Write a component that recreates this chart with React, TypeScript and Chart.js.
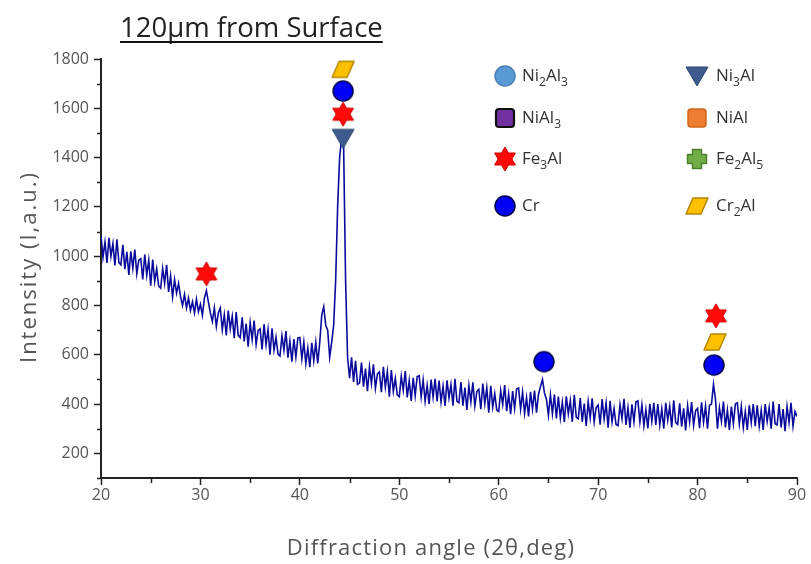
import React, { useEffect, useRef } from 'react';
import { Chart, registerables } from 'chart.js';

Chart.register(...registerables);

// ---- Data ----
const START_ANGLE = 20;
const STEP = 0.2;
const intensity = [
  1085, 996, 1057, 973, 1074, 1000, 1051, 962, 1068, 974,
  965, 1046, 947, 1018, 924, 1020, 951, 1027, 928, 984,
  990, 906, 1007, 923, 984, 880, 986, 897, 948, 879,
  870, 950, 890, 965, 855, 920, 835, 905, 850, 890,
  835, 800, 845, 790, 830, 780, 815, 770, 825, 775,
  805, 760, 830, 860, 815, 770, 735, 790, 715, 770,
  790, 701, 762, 678, 779, 705, 756, 667, 773, 679,
  670, 752, 654, 726, 633, 730, 662, 739, 641, 698,
  705, 622, 724, 641, 703, 600, 707, 619, 671, 603,
  595, 677, 619, 696, 588, 655, 572, 664, 591, 668,
  670, 583, 651, 564, 627, 550, 648, 576, 650, 565,
  650, 760, 795, 720, 700, 590, 650, 720, 900, 1200,
  1400, 1480, 1450, 900, 590, 505, 590, 490, 575, 480,
  485, 568, 471, 544, 452, 550, 483, 561, 464, 522,
  530, 448, 551, 469, 532, 430, 538, 451, 504, 437,
  430, 513, 456, 534, 427, 495, 413, 506, 434, 512,
  515, 429, 498, 412, 476, 400, 499, 428, 502, 411,
  495, 409, 473, 392, 496, 425, 479, 393, 502, 411,
  405, 489, 393, 467, 376, 475, 409, 488, 392, 451,
  460, 379, 483, 402, 466, 365, 474, 388, 442, 376,
  370, 454, 398, 477, 371, 440, 359, 453, 382, 461,
  465, 379, 448, 362, 426, 350, 450, 380, 455, 365,
  440, 470, 500, 445, 420, 355, 438, 361, 439, 342,
  430, 344, 408, 327, 431, 360, 414, 328, 437, 346,
  340, 424, 328, 402, 311, 410, 344, 423, 327, 386,
  396, 316, 420, 340, 404, 304, 413, 328, 382, 317,
  312, 397, 341, 421, 315, 385, 304, 399, 328, 408,
  413, 328, 397, 312, 377, 301, 401, 331, 405, 315,
  400, 315, 380, 300, 405, 335, 390, 305, 415, 325,
  318, 403, 308, 383, 293, 393, 328, 408, 313, 373,
  382, 302, 407, 327, 392, 300, 395, 400, 480, 420,
  300, 385, 330, 410, 305, 375, 295, 390, 320, 400,
  405, 320, 390, 305, 370, 295, 395, 325, 400, 310,
  395, 310, 375, 295, 400, 330, 385, 300, 410, 320,
  315, 400, 305, 380, 290, 390, 325, 405, 310, 370,
  350,
];

const fe3alX = [30.6, 44.35, 81.85];
const fe3alY = [928, 1576, 758];
const crX = [44.35, 64.55, 81.65];
const crY = [1670, 572, 558];
const cr2alX = [44.35, 81.75];
const cr2alY = [1758, 652];
const ni3alX = [44.35];
const ni3alY = [1478];

const xTicks = [20, 30, 40, 50, 60, 70, 80, 90];
const xMinorTicks = [25, 35, 45, 55, 65, 75, 85];
const yTicks = [200, 400, 600, 800, 1000, 1200, 1400, 1600, 1800];
const yMinorTicks = [100, 300, 500, 700, 900, 1100, 1300, 1500, 1700];

const legendLabels = ['Ni_2Al_3', 'NiAl_3', 'Fe_3Al', 'Cr', 'Ni_3Al', 'NiAl', 'Fe_2Al_5', 'Cr_2Al'];
const legendMarkers = ['circleLight', 'squarePurple', 'star', 'circleBlue', 'triDown', 'squareOrange', 'plusGreen', 'para'];

const TITLE = '120μm from Surface';
const X_TITLE = 'Diffraction angle (2θ,deg)';
const Y_TITLE = 'Intensity (I,a.u.)';
const FONT = "'Open Sans', 'Noto Sans', sans-serif";

function makeMarker(kind: string): HTMLCanvasElement {
  const s = 28;
  const c = document.createElement('canvas');
  c.width = s;
  c.height = s;
  const g = c.getContext('2d')!;
  const m = s / 2;
  g.lineJoin = 'round';
  const poly = (pts: number[][], fill: string, stroke: string, lw: number) => {
    g.beginPath();
    pts.forEach((p, i) => (i === 0 ? g.moveTo(p[0], p[1]) : g.lineTo(p[0], p[1])));
    g.closePath();
    g.fillStyle = fill;
    g.fill();
    g.lineWidth = lw;
    g.strokeStyle = stroke;
    g.stroke();
  };
  switch (kind) {
    case 'star': {
      const pts: number[][] = [];
      const R = 12;
      const r = R / Math.sqrt(3);
      for (let k = 0; k < 6; k++) {
        const a1 = ((-90 + k * 60) * Math.PI) / 180;
        const a2 = ((-60 + k * 60) * Math.PI) / 180;
        pts.push([m + R * Math.cos(a1), m + R * Math.sin(a1)]);
        pts.push([m + r * Math.cos(a2), m + r * Math.sin(a2)]);
      }
      poly(pts, '#ff0a0a', '#d00000', 1);
      break;
    }
    case 'circleBlue':
    case 'circleLight': {
      g.beginPath();
      g.arc(m, m, 10, 0, Math.PI * 2);
      g.fillStyle = kind === 'circleBlue' ? '#0000f5' : '#5b9bd5';
      g.fill();
      g.lineWidth = 1.5;
      g.strokeStyle = kind === 'circleBlue' ? '#00004a' : '#4a80b5';
      g.stroke();
      break;
    }
    case 'triDown':
      poly([[m - 11, m - 9], [m + 11, m - 9], [m, m + 10]], '#3d5b8c', '#2c4470', 1);
      break;
    case 'squarePurple':
    case 'squareOrange': {
      g.beginPath();
      (g as any).roundRect(m - 9, m - 9, 18, 18, 3);
      g.fillStyle = kind === 'squarePurple' ? '#7030a0' : '#ed7d31';
      g.fill();
      g.lineWidth = kind === 'squarePurple' ? 2.2 : 1.5;
      g.strokeStyle = kind === 'squarePurple' ? '#111111' : '#d0661e';
      g.stroke();
      break;
    }
    case 'plusGreen': {
      const a = 4.5;
      const b = 9.5;
      poly(
        [
          [m - a, m - b], [m + a, m - b], [m + a, m - a], [m + b, m - a], [m + b, m + a], [m + a, m + a],
          [m + a, m + b], [m - a, m + b], [m - a, m + a], [m - b, m + a], [m - b, m - a], [m - a, m - a],
        ],
        '#70ad47',
        '#4d7f2e',
        1.5,
      );
      break;
    }
    case 'para':
      poly([[m - 4, m - 8], [m + 11, m - 8], [m + 4, m + 8], [m - 11, m + 8]], '#ffc000', '#b38600', 1.5);
      break;
  }
  return c;
}

function drawSubText(ctx: CanvasRenderingContext2D, text: string, x: number, y: number) {
  let cx = x;
  const parts = text.split(/(_\d)/).filter((p) => p.length > 0);
  ctx.textBaseline = 'middle';
  ctx.textAlign = 'left';
  for (const p of parts) {
    if (p.startsWith('_')) {
      ctx.font = `12px ${FONT}`;
      ctx.fillText(p.slice(1), cx, y + 7);
      cx += ctx.measureText(p.slice(1)).width;
    } else {
      ctx.font = `17px ${FONT}`;
      ctx.fillText(p, cx, y);
      cx += ctx.measureText(p).width;
    }
  }
}

export default function App() {
  const ref = useRef<HTMLCanvasElement>(null);

  useEffect(() => {
    const canvas = ref.current!;
    const markers: Record<string, HTMLCanvasElement> = {};
    legendMarkers.forEach((k) => (markers[k] = makeMarker(k)));

    const lineData = intensity.map((v, i) => ({ x: START_ANGLE + i * STEP, y: v }));
    const pts = (xs: number[], ys: number[]) => xs.map((x, i) => ({ x, y: ys[i] }));

    const decor = {
      id: 'decor',
      beforeDraw(chart: any) {
        const ctx = chart.ctx;
        ctx.save();
        ctx.fillStyle = '#ffffff';
        ctx.fillRect(0, 0, chart.width, chart.height);
        ctx.restore();
      },
      afterDraw(chart: any) {
        const ctx: any = chart.ctx;
        const xs = chart.scales.x;
        const ys = chart.scales.y;
        const area = chart.chartArea;
        ctx.save();
        // minor ticks
        ctx.strokeStyle = '#222';
        ctx.lineWidth = 1.5;
        ctx.beginPath();
        xMinorTicks.forEach((v) => {
          const px = Math.round(xs.getPixelForValue(v)) + 0.5;
          ctx.moveTo(px, area.bottom);
          ctx.lineTo(px, area.bottom + 5);
        });
        yMinorTicks.forEach((v) => {
          const py = Math.round(ys.getPixelForValue(v)) + 0.5;
          ctx.moveTo(area.left, py);
          ctx.lineTo(area.left - 4, py);
        });
        ctx.stroke();

        // title
        ctx.fillStyle = '#222';
        ctx.font = `27.5px ${FONT}`;
        ctx.textAlign = 'left';
        ctx.textBaseline = 'alphabetic';
        ctx.fillText(TITLE, 120, 37);
        const tw = ctx.measureText(TITLE).width;
        ctx.strokeStyle = '#111';
        ctx.lineWidth = 2;
        ctx.beginPath();
        ctx.moveTo(120, 42);
        ctx.lineTo(120 + tw, 42);
        ctx.stroke();

        // axis titles
        ctx.fillStyle = '#555';
        ctx.textAlign = 'center';
        ctx.textBaseline = 'middle';
        ctx.font = `22px ${FONT}`;
        ctx.letterSpacing = '1.2px';
        ctx.fillText(X_TITLE, 431, 549);
        ctx.save();
        ctx.translate(30, 267);
        ctx.rotate(-Math.PI / 2);
        ctx.letterSpacing = '2px';
        ctx.fillText(Y_TITLE, 0, 0);
        ctx.restore();
        ctx.letterSpacing = '0px';

        // legend
        const colMarkerX = [505, 697];
        const colTextX = [522, 716];
        const rowY = [76, 118, 159, 206];
        legendLabels.forEach((lab, i) => {
          const col = Math.floor(i / 4);
          const row = i % 4;
          const img = markers[legendMarkers[i]];
          ctx.drawImage(img, colMarkerX[col] - img.width / 2, rowY[row] - img.height / 2);
          ctx.fillStyle = '#333';
          drawSubText(ctx, lab, colTextX[col], rowY[row]);
        });
        ctx.restore();
      },
    };

    const chart = new Chart(canvas, {
      type: 'scatter',
      data: {
        datasets: [
          {
            label: 'XRD',
            data: lineData,
            showLine: true,
            borderColor: '#0a0a9c',
            borderWidth: 1.6,
            pointRadius: 0,
            order: 5,
          },
          { label: 'Ni3Al', data: pts(ni3alX, ni3alY), pointStyle: markers.triDown as any, order: 4 },
          { label: 'Fe3Al', data: pts(fe3alX, fe3alY), pointStyle: markers.star as any, order: 3 },
          { label: 'Cr', data: pts(crX, crY), pointStyle: markers.circleBlue as any, order: 2 },
          { label: 'Cr2Al', data: pts(cr2alX, cr2alY), pointStyle: markers.para as any, order: 1 },
        ],
      },
      options: {
        responsive: false,
        animation: false,
        events: [],
        layout: { padding: { left: 0, right: 14, top: 59, bottom: 0 } },
        plugins: { legend: { display: false }, tooltip: { enabled: false } },
        scales: {
          x: {
            type: 'linear',
            min: 20,
            max: 90,
            afterBuildTicks: (s: any) => {
              s.ticks = xTicks.map((v) => ({ value: v }));
            },
            afterFit: (s: any) => {
              s.height = 86;
            },
            grid: { drawOnChartArea: false, drawTicks: true, tickLength: 7, tickWidth: 1.5, tickColor: '#222' },
            border: { display: true, color: '#222', width: 2 },
            ticks: { color: '#555', font: { family: FONT, size: 16 }, padding: 1, maxRotation: 0, callback: (v: any) => String(v) },
          },
          y: {
            type: 'linear',
            min: 100,
            max: 1800,
            afterBuildTicks: (s: any) => {
              s.ticks = yTicks.map((v) => ({ value: v }));
            },
            afterFit: (s: any) => {
              s.width = 101;
            },
            grid: { drawOnChartArea: false, drawTicks: true, tickLength: 7, tickWidth: 1.5, tickColor: '#222' },
            border: { display: true, color: '#222', width: 2 },
            ticks: { color: '#555', font: { family: FONT, size: 16 }, padding: 5, callback: (v: any) => String(v) },
          },
        },
      },
      plugins: [decor],
    });

    return () => chart.destroy();
  }, []);

  return (
    <div style={{ position: 'fixed', left: 0, top: 0, width: 811, height: 564, background: '#fff' }}>
      <canvas ref={ref} width={811} height={564} />
    </div>
  );
}
